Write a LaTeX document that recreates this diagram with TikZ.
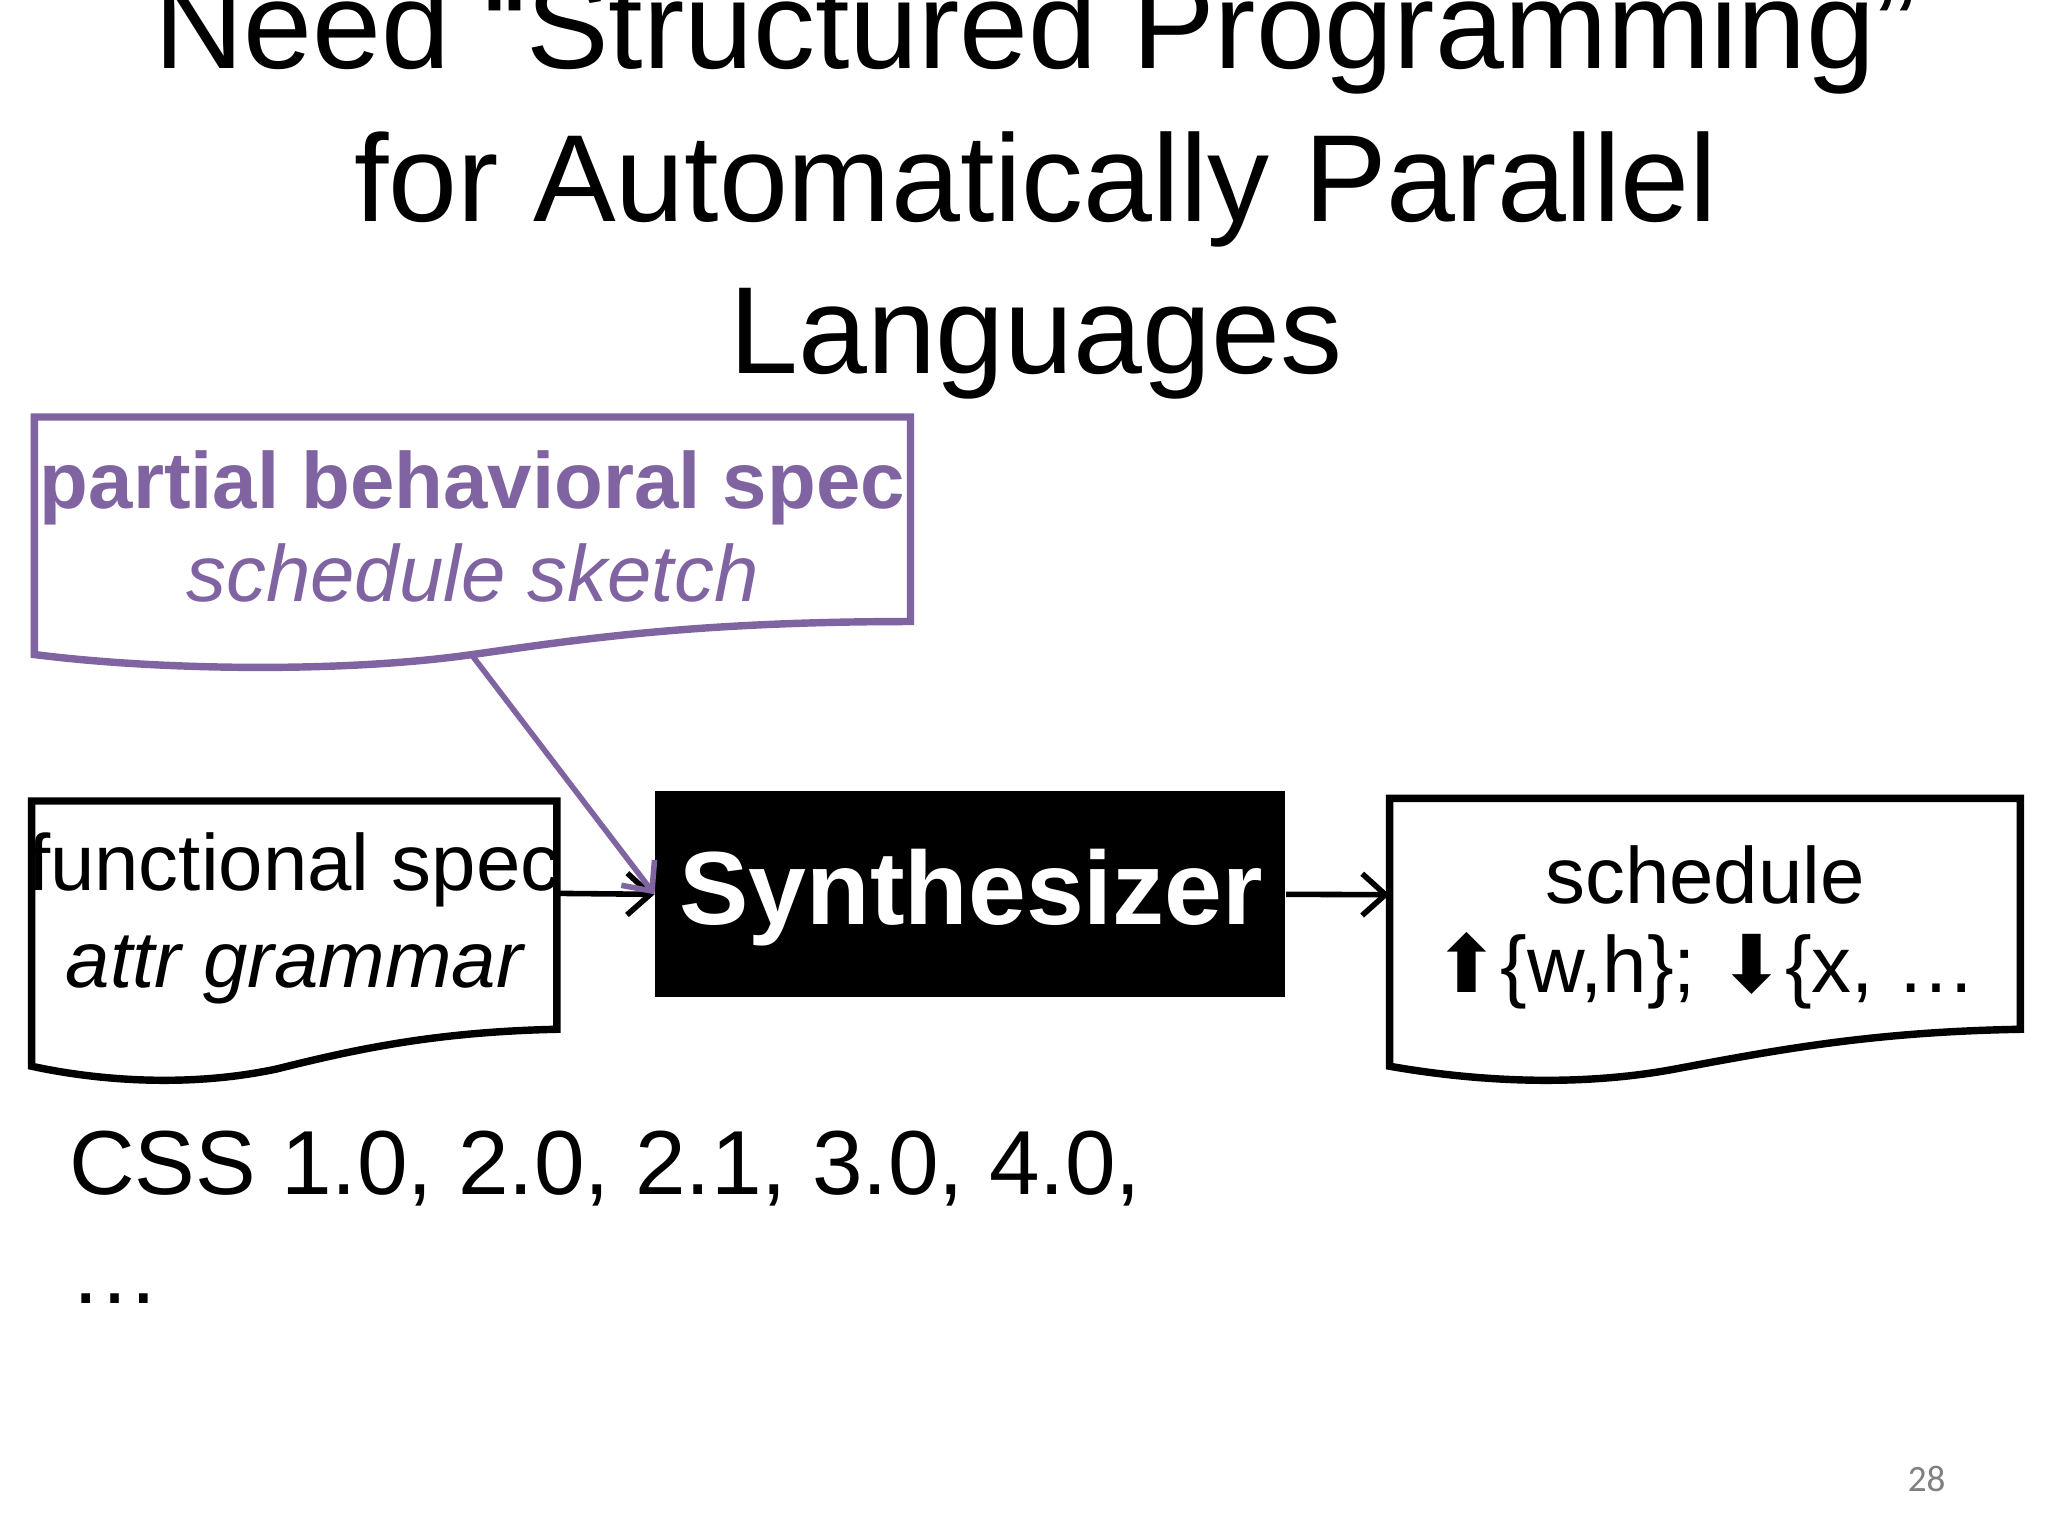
\documentclass[tikz,border=0pt]{standalone}
\usepackage{fontspec}
\setmainfont{Liberation Sans}
\newfontfamily\djv{DejaVu Sans}
\newfontfamily\carl{Carlito}
\usetikzlibrary{arrows.meta}
\definecolor{purp}{HTML}{8064A2}
\tikzset{docline/.style={line width=1.6pt},
 conn/.style={line width=1.2pt,-{Straight Barb[length=5pt,width=9pt]}}}
\begin{document}
\begin{tikzpicture}[x=0.01cm,y=-0.01cm]
\useasboundingbox[fill=white] (0,0) rectangle (1552,1164);
% title
\node[anchor=base,font=\fontsize{26.7}{26.7}\selectfont] (t1) at (785,52) {Need “Structured Programming”};
\node[anchor=base,font=\fontsize{26.7}{26.7}\selectfont] (t2) at (785,168) {for Automatically Parallel};
\node[anchor=base,font=\fontsize{26.7}{26.7}\selectfont] (t3) at (785,283) {Languages};
% purple doc
\draw[docline,purp] (26,316) -- (690,316) -- (690,471) .. controls (520,471) and (430,486) .. (358,496) .. controls (260,510) and (120,508) .. (26,496) -- cycle;
\coordinate (pb) at (358,497);
\node[anchor=base,text=purp,font=\fontsize{17.2}{17.2}\selectfont\bfseries] (p1) at (358,385) {partial behavioral spec};
\node[anchor=base,text=purp,font=\fontsize{17.2}{17.2}\selectfont\itshape] (p2) at (358,456) {schedule sketch};
% functional doc
\draw[docline] (24,607) -- (422,607) -- (422,780) .. controls (330,782) and (270,795) .. (210,810) .. controls (140,825) and (70,818) .. (24,808) -- cycle;
\coordinate (fr) at (422,677);
\node[anchor=base,font=\fontsize{17.2}{17.2}\selectfont] (f1) at (223,675) {functional spec};
\node[anchor=base,font=\fontsize{17.2}{17.2}\selectfont\itshape] (f2) at (223,748) {attr grammar};
% synthesizer
\node[fill=black,minimum width=4.77cm,minimum height=1.56cm,inner sep=0,anchor=north west] (syn) at (496,599) {};
\node[text=white,font=\fontsize{22.4}{22.4}\selectfont\bfseries] (synt) at (736,680) {Synthesizer};
% schedule doc
\draw[docline] (1053,605) -- (1531,605) -- (1531,780) .. controls (1420,782) and (1350,795) .. (1270,810) .. controls (1190,825) and (1110,818) .. (1053,808) -- cycle;
\coordinate (sl) at (1053,678);
\node[anchor=base,font=\fontsize{17.2}{17.2}\selectfont] (s1) at (1292,685) {schedule};
\node[anchor=base,font=\fontsize{17.2}{17.2}\selectfont] (s2) at (1292,752) {{\djv ⬆}\{w,h\}; {\djv ⬇}\{x, …};
% connectors
\draw[conn] (fr) -- (syn.west);
\draw[conn] (syn.east) -- (sl);
\draw[conn,purp] (pb) -- (syn.west);
% bottom text
\node[anchor=base west,font=\fontsize{19.6}{19.6}\selectfont] (css) at (40,905) {CSS 1.0, 2.0, 2.1, 3.0, 4.0,};
\node[anchor=base west,font=\fontsize{19.6}{19.6}\selectfont] (dots) at (40,988) {…};
\node[anchor=base,text=gray,font=\carl\fontsize{8}{8}\selectfont] (pg) at (1460,1130) {28};
\end{tikzpicture}
\end{document}
